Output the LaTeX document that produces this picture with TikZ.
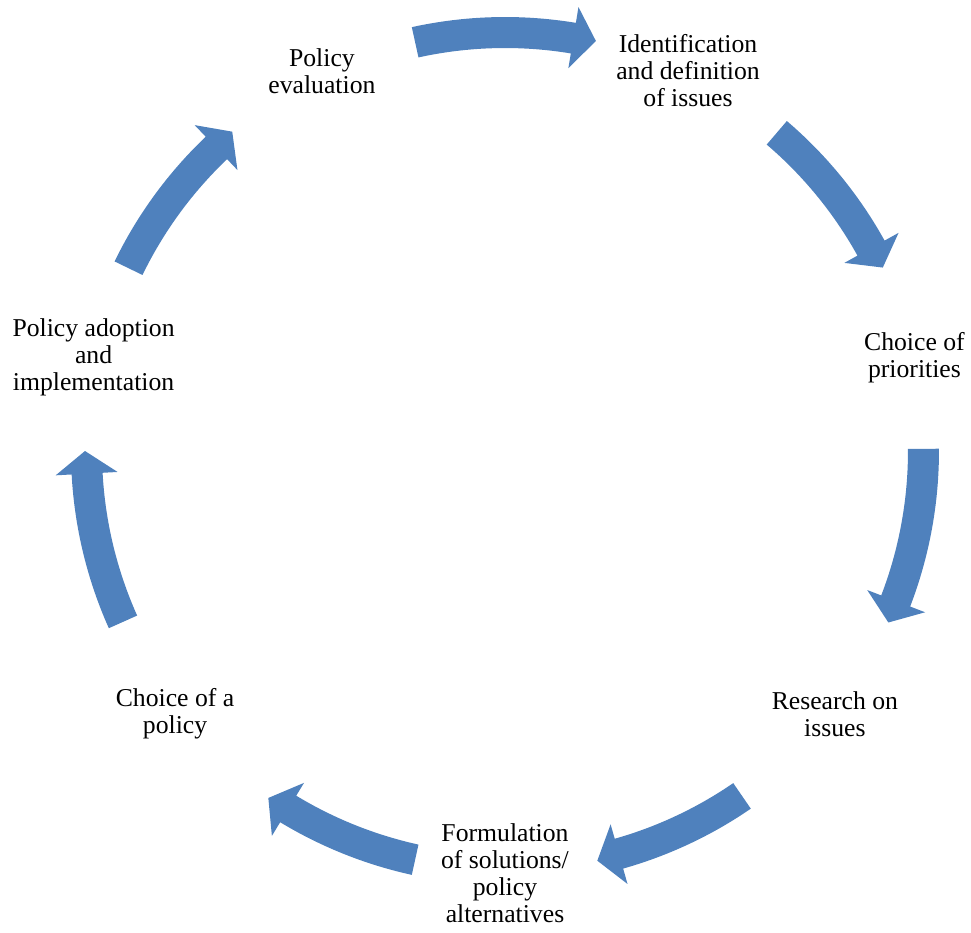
\documentclass[tikz,border=0pt]{standalone}
\usepackage{fontspec}
\setmainfont{Liberation Serif}
\definecolor{cycleblue}{RGB}{79,129,189}
% one curved block arrow of the cycle, #1 = tail angle, #2 = tip angle
\newcommand\cyclearrow[2]{%
  \fill[cycleblue] (#1:434) arc[start angle=#1, end angle=#2+3.1, radius=434]
    -- (#2+3.1:450) -- (#2:420) -- (#2+3.1:388) -- (#2+3.1:403)
    arc[start angle=#2+3.1, end angle=#1, radius=403] -- cycle;}

\begin{document}
\begin{tikzpicture}[x=.5pt,y=.5pt,
  stage/.style={font=\fontsize{12.85}{13.5}\selectfont,align=center,inner sep=0pt}]
  \useasboundingbox (-505,-482) rectangle (466,451);
  % stages, clockwise from the top left
  \node[stage] (eval) at (115.71:422) {Policy\\evaluation};
  \node[stage] (ident) at (64.29:422) {Identification\\and definition\\of issues};
  \node[stage] (prior) at (12.86:420) {Choice of\\priorities};
  \node[stage] (research) at (-38.57:422) {Research on\\issues};
  \node[stage] (formul) at (-90:422) {Formulation\\of solutions/\\policy\\alternatives};
  \node[stage] (choice) at (-141.43:422) {Choice of a\\policy};
  \node[stage] (adopt) at (167.14:422) {Policy adoption\\and\\implementation};
  % arrows between the stages
  \cyclearrow{102.4}{77.5}
  \cyclearrow{49.5}{25.9}
  \cyclearrow{0.3}{-24.1}
  \cyclearrow{-55.5}{-77.3}
  \cyclearrow{-102.4}{-124.3}
  \cyclearrow{-155.9}{-180}
  \cyclearrow{154.1}{130.5}
\end{tikzpicture}
\end{document}
